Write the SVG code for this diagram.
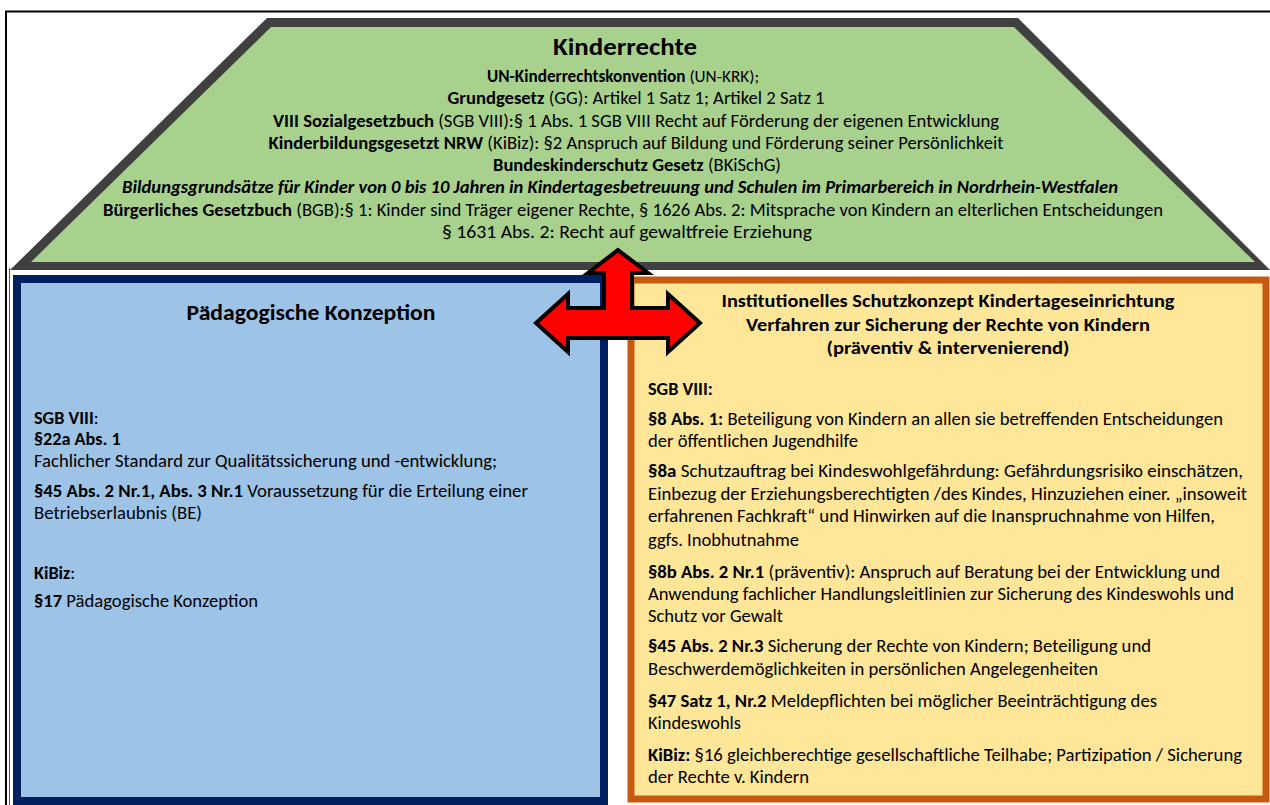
<svg xmlns="http://www.w3.org/2000/svg" width="1270" height="805" viewBox="0 0 1270 805">
<style>
.t{font-family:Carlito,'Liberation Sans',Arial,sans-serif;font-size:18.2px;fill:#000}
.c{text-anchor:middle}
.b{font-weight:bold}
.i{font-style:italic}
.h1{font-size:24px;font-weight:bold}
.h2{font-size:22px;font-weight:bold}
.h3{font-size:18.5px;font-weight:bold}
</style>
<rect width="1270" height="805" fill="#fff"/>
<g id="frame" fill="none" stroke="#000">
<path d="M5 11.5H1270" stroke-width="2"/>
<path d="M6 11V805" stroke-width="2"/>
<path d="M9.5 268V805" stroke-width="1" stroke="#555"/>
</g>
<g id="kinderrechte">
<polygon points="267,18 1018,18 1270,270 10,270" fill="#404040"/>
<polygon points="271,27 1014,27 1255,262 31,262" fill="#A9D18E"/>
<text class="t c h1" x="625" y="55" textLength="144" lengthAdjust="spacingAndGlyphs">Kinderrechte</text>
<text class="t c" x="623" y="82" style="font-size:17.2px"><tspan class="b">UN-Kinderrechtskonvention</tspan> (UN-KRK);</text>
<text class="t c" x="636" y="104" textLength="377" lengthAdjust="spacingAndGlyphs"><tspan class="b">Grundgesetz</tspan> (GG): Artikel 1 Satz 1; Artikel 2 Satz 1</text>
<text class="t c" x="636" y="127" textLength="726" lengthAdjust="spacingAndGlyphs"><tspan class="b">VIII Sozialgesetzbuch</tspan> (SGB VIII):§ 1 Abs. 1 SGB VIII Recht auf Förderung der eigenen Entwicklung</text>
<text class="t c" x="636" y="149" textLength="735" lengthAdjust="spacingAndGlyphs"><tspan class="b">Kinderbildungsgesetzt NRW</tspan> (KiBiz): §2 Anspruch auf Bildung und Förderung seiner Persönlichkeit</text>
<text class="t c" x="637" y="171" textLength="288" lengthAdjust="spacingAndGlyphs"><tspan class="b">Bundeskinderschutz Gesetz</tspan> (BKiSchG)</text>
<text class="t c b i" x="620" y="193" textLength="996" lengthAdjust="spacingAndGlyphs">Bildungsgrundsätze für Kinder von 0 bis 10 Jahren in Kindertagesbetreuung und Schulen im Primarbereich in Nordrhein-Westfalen</text>
<text class="t c" x="633" y="216" textLength="1060" lengthAdjust="spacingAndGlyphs"><tspan class="b">Bürgerliches Gesetzbuch</tspan> (BGB):§ 1: Kinder sind Träger eigener Rechte, § 1626 Abs. 2: Mitsprache von Kindern an elterlichen Entscheidungen</text>
<text class="t c" x="627" y="238" textLength="370" lengthAdjust="spacingAndGlyphs">§ 1631 Abs. 2: Recht auf gewaltfreie Erziehung</text>
</g>
<g id="paedagogische-konzeption">
<rect x="17" y="279" width="587" height="522" fill="#9DC3E6" stroke="#002060" stroke-width="8"/>
<text class="t c h2" x="311" y="320" textLength="249" lengthAdjust="spacingAndGlyphs">Pädagogische Konzeption</text>
<text class="t" x="34" y="424"><tspan class="b">SGB VIII</tspan>:</text>
<text class="t b" x="34" y="445">§22a Abs. 1</text>
<text class="t" x="34" y="467" textLength="463" lengthAdjust="spacingAndGlyphs">Fachlicher Standard zur Qualitätssicherung und -entwicklung;</text>
<text class="t" x="34" y="497" textLength="494" lengthAdjust="spacingAndGlyphs"><tspan class="b">§45 Abs. 2 Nr.1, Abs. 3 Nr.1</tspan> Voraussetzung für die Erteilung einer</text>
<text class="t" x="34" y="519" textLength="168" lengthAdjust="spacingAndGlyphs">Betriebserlaubnis (BE)</text>
<text class="t" x="34" y="579"><tspan class="b">KiBiz</tspan>:</text>
<text class="t" x="34" y="607" textLength="224" lengthAdjust="spacingAndGlyphs"><tspan class="b">§17</tspan> Pädagogische Konzeption</text>
</g>
<g id="schutzkonzept">
<rect x="631" y="280" width="635" height="519" fill="#FFE699" stroke="#C55A11" stroke-width="7"/>
<text class="t c h3" x="948" y="307" textLength="453" lengthAdjust="spacingAndGlyphs">Institutionelles Schutzkonzept Kindertageseinrichtung</text>
<text class="t c h3" x="948" y="331" textLength="404" lengthAdjust="spacingAndGlyphs">Verfahren zur Sicherung der Rechte von Kindern</text>
<text class="t c h3" x="948" y="354" textLength="243" lengthAdjust="spacingAndGlyphs">(präventiv &amp; intervenierend)</text>
<text class="t b" x="648" y="395">SGB VIII:</text>
<text class="t" x="648" y="425" textLength="575" lengthAdjust="spacingAndGlyphs"><tspan class="b">§8 Abs. 1:</tspan> Beteiligung von Kindern an allen sie betreffenden Entscheidungen</text>
<text class="t" x="648" y="447" textLength="210" lengthAdjust="spacingAndGlyphs">der öffentlichen Jugendhilfe</text>
<text class="t" x="648" y="477" textLength="595" lengthAdjust="spacingAndGlyphs"><tspan class="b">§8a</tspan> Schutzauftrag bei Kindeswohlgefährdung: Gefährdungsrisiko einschätzen,</text>
<text class="t" x="648" y="500" textLength="599" lengthAdjust="spacingAndGlyphs">Einbezug der Erziehungsberechtigten /des Kindes, Hinzuziehen einer. „insoweit</text>
<text class="t" x="648" y="522" textLength="567" lengthAdjust="spacingAndGlyphs">erfahrenen Fachkraft“ und Hinwirken auf die Inanspruchnahme von Hilfen,</text>
<text class="t" x="648" y="546" textLength="151" lengthAdjust="spacingAndGlyphs">ggfs. Inobhutnahme</text>
<text class="t" x="648" y="578" textLength="572" lengthAdjust="spacingAndGlyphs"><tspan class="b">§8b Abs. 2 Nr.1</tspan> (präventiv): Anspruch auf Beratung bei der Entwicklung und</text>
<text class="t" x="648" y="600" textLength="586" lengthAdjust="spacingAndGlyphs">Anwendung fachlicher Handlungsleitlinien zur Sicherung des Kindeswohls und</text>
<text class="t" x="648" y="622" textLength="135" lengthAdjust="spacingAndGlyphs">Schutz vor Gewalt</text>
<text class="t" x="648" y="652" textLength="503" lengthAdjust="spacingAndGlyphs"><tspan class="b">§45 Abs. 2 Nr.3</tspan> Sicherung der Rechte von Kindern; Beteiligung und</text>
<text class="t" x="648" y="675" textLength="450" lengthAdjust="spacingAndGlyphs">Beschwerdemöglichkeiten in persönlichen Angelegenheiten</text>
<text class="t" x="648" y="707" textLength="509" lengthAdjust="spacingAndGlyphs"><tspan class="b">§47 Satz 1, Nr.2</tspan> Meldepflichten bei möglicher Beeinträchtigung des</text>
<text class="t" x="648" y="729" textLength="93" lengthAdjust="spacingAndGlyphs">Kindeswohls</text>
<text class="t" x="648" y="761" textLength="594" lengthAdjust="spacingAndGlyphs"><tspan class="b">KiBiz:</tspan> §16 gleichberechtige gesellschaftliche Teilhabe; Partizipation / Sicherung</text>
<text class="t" x="648" y="783" textLength="161" lengthAdjust="spacingAndGlyphs">der Rechte v. Kindern</text>
</g>
<g id="connectors">
<polygon points="618,250 648,273 632,273 632,308 668,308 668,294 700,323 668,352 668,338 568,338 568,352 536,323 568,294 568,308 604,308 604,273 588,273" fill="#FF0000" stroke="#000" stroke-width="4" stroke-linejoin="miter"/>
</g>
</svg>
